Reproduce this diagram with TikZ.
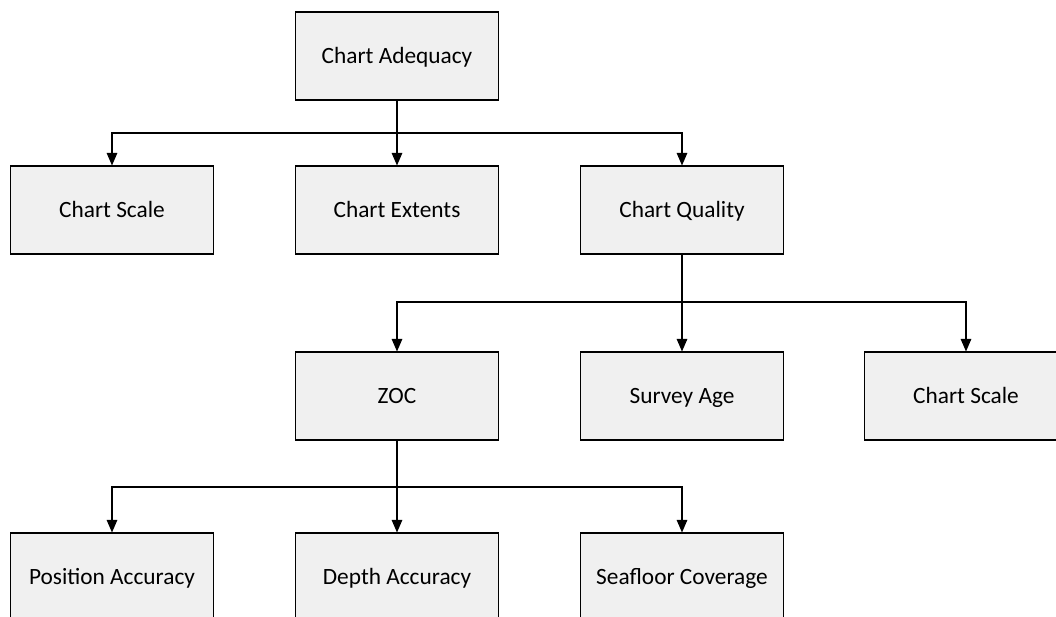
\documentclass[tikz,border=0pt]{standalone}
\usepackage{fontspec}
\setmainfont{Carlito}
\usetikzlibrary{arrows.meta}

\begin{document}
\begin{tikzpicture}[
  x=0.75pt, y=-0.75pt,
  every node/.style={rectangle, draw, fill=black!6, line width=0.8pt,
    minimum width=152pt, minimum height=66pt, inner sep=0pt,
    text height=13.5pt, text depth=2pt,
    font=\fontsize{17.5}{21}\selectfont},
  stem/.style={draw, line width=1.2pt},
  link/.style={draw, line width=0.8pt, -{Triangle[length=9.5pt,width=8pt]}}
]
\clip (0,0) rectangle (1056,617);

% Top level
\node (adeq) at (397,56) {Chart Adequacy};

% Second level
\node (scaleA) at (112,210) {Chart Scale};
\node (extents) at (397,210) {Chart Extents};
\node (quality) at (682,210) {Chart Quality};

% Third level
\node (zoc) at (397,396) {ZOC};
\node (age) at (682,396) {Survey Age};
\node (scaleB) at (966,396) {Chart Scale};

% Fourth level
\node (pos) at (112,577) {Position Accuracy};
\node (depth) at (397,577) {Depth Accuracy};
\node (floor) at (682,577) {Seafloor Coverage};

% Connectors
\coordinate (busA) at (397,133);
\coordinate (busB) at (682,302);
\coordinate (busC) at (397,487);

\draw[stem] (adeq.south) -- (busA);
\draw[link] (busA) -| (scaleA.north);
\draw[link] (busA) -- (extents.north);
\draw[link] (busA) -| (quality.north);

\draw[stem] (quality.south) -- (busB);
\draw[link] (busB) -| (zoc.north);
\draw[link] (busB) -- (age.north);
\draw[link] (busB) -| (scaleB.north);

\draw[stem] (zoc.south) -- (busC);
\draw[link] (busC) -| (pos.north);
\draw[link] (busC) -- (depth.north);
\draw[link] (busC) -| (floor.north);
\end{tikzpicture}
\end{document}
